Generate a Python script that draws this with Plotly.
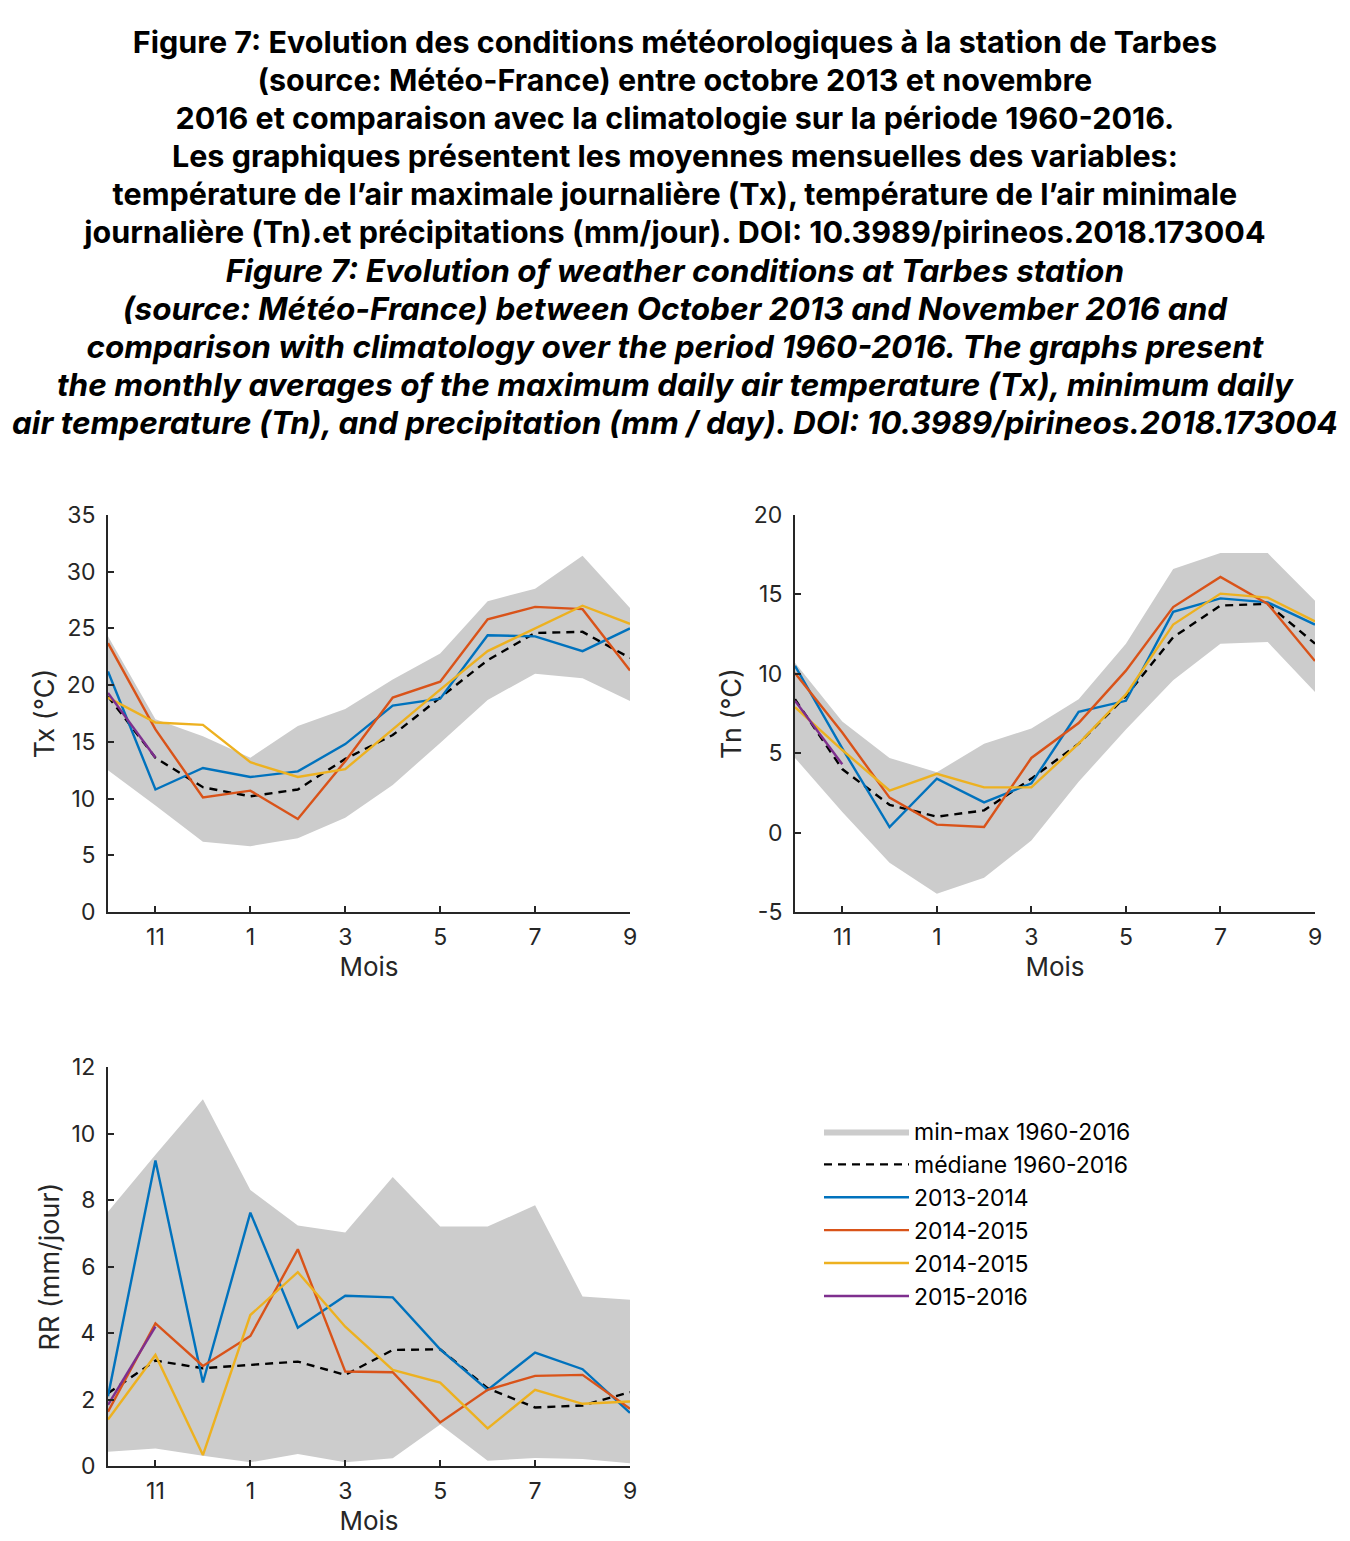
import plotly.graph_objects as go

# ---------------- data ----------------
months = ["10", "11", "12", "1", "2", "3", "4", "5", "6", "7", "8", "9"]
tick_months = ["11", "1", "3", "5", "7", "9"]

tx_min = [12.5, 9.4, 6.2, 5.8, 6.5, 8.3, 11.2, 14.9, 18.7, 21.0, 20.6, 18.6]
tx_max = [24.3, 17.0, 15.5, 13.6, 16.4, 17.9, 20.5, 22.8, 27.4, 28.5, 31.4, 26.8]
tx_med = [19.0, 13.6, 11.0, 10.2, 10.8, 13.5, 15.6, 18.9, 22.2, 24.6, 24.7, 22.4]
tx_1314 = [21.2, 10.8, 12.7, 11.9, 12.4, 14.8, 18.2, 18.8, 24.4, 24.3, 23.0, 25.0]
tx_1415 = [23.7, 16.1, 10.1, 10.7, 8.2, 13.3, 18.9, 20.3, 25.8, 26.9, 26.7, 21.3]
tx_1415b = [18.9, 16.7, 16.5, 13.2, 11.9, 12.6, 16.1, 19.6, 23.0, 25.0, 27.0, 25.4]
tx_1516 = [19.3, 13.6]
tx_ticks = [0, 5, 10, 15, 20, 25, 30, 35]

tn_min = [4.7, 1.3, -1.9, -3.85, -2.85, -0.5, 3.2, 6.5, 9.6, 11.9, 12.0, 8.85]
tn_max = [10.7, 7.0, 4.7, 3.8, 5.6, 6.55, 8.4, 11.9, 16.6, 17.6, 17.6, 14.6]
tn_med = [8.4, 4.0, 1.75, 1.0, 1.4, 3.4, 5.6, 8.6, 12.3, 14.3, 14.4, 11.9]
tn_1314 = [10.5, 5.3, 0.35, 3.4, 1.9, 3.1, 7.6, 8.3, 13.9, 14.75, 14.5, 13.1]
tn_1415 = [10.05, 6.3, 2.2, 0.5, 0.35, 4.7, 6.9, 10.2, 14.2, 16.1, 14.4, 10.8]
tn_1415b = [7.9, 5.2, 2.65, 3.7, 2.85, 2.85, 5.6, 8.7, 13.1, 15.05, 14.8, 13.3]
tn_1516 = [8.3, 4.3]
tn_ticks = [-5, 0, 5, 10, 15, 20]
tn_ticktext = ["-5", "0", "5", "10", "15", "20"]

rr_min = [0.43, 0.53, 0.31, 0.11, 0.36, 0.11, 0.23, 1.25, 0.16, 0.24, 0.21, 0.08]
rr_max = [7.65, 9.36, 11.03, 8.3, 7.23, 7.02, 8.69, 7.2, 7.2, 7.84, 5.1, 5.0]
rr_med = [2.19, 3.17, 2.94, 3.04, 3.14, 2.74, 3.49, 3.51, 2.34, 1.76, 1.82, 2.22]
rr_1314 = [2.1, 9.19, 2.51, 7.62, 4.16, 5.12, 5.07, 3.51, 2.29, 3.41, 2.91, 1.6]
rr_1415 = [1.63, 4.29, 3.01, 3.91, 6.52, 2.84, 2.82, 1.31, 2.29, 2.71, 2.74, 1.72]
rr_1415b = [1.40, 3.34, 0.33, 4.54, 5.83, 4.19, 2.89, 2.51, 1.13, 2.29, 1.87, 1.94]
rr_1516 = [1.84, 4.19]
rr_ticks = [0, 2, 4, 6, 8, 10, 12]

series_names = ["2013-2014", "2014-2015", "2014-2015", "2015-2016"]
series_colors = ["#0072BD", "#D95319", "#EDB120", "#7E2F8E"]

title_fr_lines = [
    "Figure 7: Evolution des conditions météorologiques à la station de Tarbes",
    "(source: Météo-France) entre octobre 2013 et novembre",
    "2016 et comparaison avec la climatologie sur la période 1960-2016.",
    "Les graphiques présentent les moyennes mensuelles des variables:",
    "température de l’air maximale journalière (Tx), température de l’air minimale",
    "journalière (Tn).et précipitations (mm/jour). DOI: 10.3989/pirineos.2018.173004",
]
title_en_lines = [
    "Figure 7: Evolution of weather conditions at Tarbes station",
    "(source: Météo-France) between October 2013 and November 2016 and",
    "comparison with climatology over the period 1960-2016. The graphs present",
    "the monthly averages of the maximum daily air temperature (Tx), minimum daily",
    "air temperature (Tn), and precipitation (mm / day). DOI: 10.3989/pirineos.2018.173004",
]
title_text = ("<b>" + "<br>".join('<span style="font-size:30.5px">' + s + "</span>" for s in title_fr_lines)
              + "<br><i>"
              + "<br>".join('<span style="font-size:31.5px">' + s + "</span>" for s in title_en_lines)
              + "</i></b>")

# ---------------- figure ----------------
fig = go.Figure()
AX = "#262626"
FONT = "Inter, Liberation Sans, Arial, sans-serif"

panels = [
    ("x", "y", tx_min, tx_max, tx_med, [tx_1314, tx_1415, tx_1415b, tx_1516], True),
    ("x2", "y2", tn_min, tn_max, tn_med, [tn_1314, tn_1415, tn_1415b, tn_1516], False),
    ("x3", "y3", rr_min, rr_max, rr_med, [rr_1314, rr_1415, rr_1415b, rr_1516], False),
]

for xa, ya, lo, hi, med, series, show in panels:
    fig.add_trace(go.Scatter(x=months, y=lo, xaxis=xa, yaxis=ya, mode="lines",
                             line=dict(width=0, color="#CCCCCC"), showlegend=False,
                             hoverinfo="skip"))
    fig.add_trace(go.Scatter(x=months, y=hi, xaxis=xa, yaxis=ya, mode="lines",
                             line=dict(width=0, color="#CCCCCC"), fill="tonexty",
                             fillcolor="#CCCCCC", name="min-max 1960-2016",
                             showlegend=show))
    fig.add_trace(go.Scatter(x=months, y=med, xaxis=xa, yaxis=ya, mode="lines",
                             line=dict(width=2.4, color="black", dash="8px,6px"),
                             name="médiane 1960-2016", showlegend=show))
    for vals, nm, col in zip(series, series_names, series_colors):
        fig.add_trace(go.Scatter(x=months[:len(vals)], y=vals, xaxis=xa, yaxis=ya,
                                 mode="lines", line=dict(width=2.4, color=col),
                                 name=nm, showlegend=show))

xcommon = dict(type="category", categoryorder="array", categoryarray=months,
               range=[0, 11], tickmode="array", tickvals=tick_months, automargin=False,
               ticks="inside", ticklen=6, tickwidth=2, tickcolor=AX,
               showline=True, linewidth=2, linecolor=AX, showgrid=False,
               zeroline=False, tickfont=dict(size=23, color=AX, family=FONT),
               ticklabelstandoff=3,
               title=dict(text="Mois", font=dict(size=26, color=AX, family=FONT), standoff=2))
ycommon = dict(ticks="inside", ticklen=6, tickwidth=2, tickcolor=AX, tickmode="array",
               showline=True, linewidth=2, linecolor=AX, showgrid=False, automargin=False,
               zeroline=False, tickfont=dict(size=23, color=AX, family=FONT),
               ticklabelstandoff=6)

top_dom = [1 - 912 / 1541, 1 - 515 / 1541]
bot_dom = [1 - 1466 / 1541, 1 - 1067 / 1541]
ytitle_font = dict(size=27, color=AX, family=FONT)

fig.update_layout(
    width=1350, height=1541,
    margin=dict(l=0, r=0, t=0, b=0),
    paper_bgcolor="white", plot_bgcolor="white",
    font=dict(family=FONT, color=AX),
    xaxis=dict(xcommon, domain=[108 / 1350, 630 / 1350], anchor="y"),
    yaxis=dict(ycommon, domain=top_dom, anchor="x", range=[0, 35], tickvals=tx_ticks,
               title=dict(text="Tx (°C)", font=ytitle_font, standoff=4)),
    xaxis2=dict(xcommon, domain=[795 / 1350, 1315 / 1350], anchor="y2"),
    yaxis2=dict(ycommon, domain=top_dom, anchor="x2", range=[-5, 20], tickvals=tn_ticks,
                ticktext=tn_ticktext,
                title=dict(text="Tn (°C)", font=ytitle_font, standoff=4)),
    xaxis3=dict(xcommon, domain=[108 / 1350, 630 / 1350], anchor="y3"),
    yaxis3=dict(ycommon, domain=bot_dom, anchor="x3", range=[0, 12], tickvals=rr_ticks,
                title=dict(text="RR (mm/jour)", font=ytitle_font, standoff=4)),
    legend=dict(x=819 / 1350, y=1 - 1110 / 1541, xanchor="left", yanchor="top",
                font=dict(size=23, color="black", family=FONT), traceorder="normal",
                bgcolor="rgba(0,0,0,0)", tracegroupgap=0, itemwidth=85),
    annotations=[dict(text=title_text, xref="paper", yref="paper", x=0.5, y=1 - 21 / 1541,
                      xanchor="center", yanchor="top", showarrow=False, align="center",
                      font=dict(size=29.3, color="black", family=FONT))],
)

post = ("document.body.style.margin='0';"
        "document.documentElement.style.margin='0';"
        "document.body.style.overflow='hidden';")

fig.write_html("out.html", config={"displayModeBar": False}, post_script=post)
